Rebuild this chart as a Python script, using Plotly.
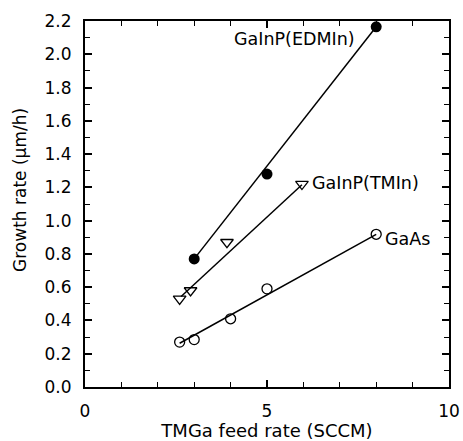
import plotly.graph_objects as go

# Data
edmin_x = [3.0, 5.0, 8.0]
edmin_y = [0.77, 1.28, 2.165]
tmin_x = [2.6, 2.9, 3.9, 5.96]
tmin_y = [0.53, 0.58, 0.87, 1.22]
gaas_x = [2.6, 3.0, 4.0, 5.0, 8.0]
gaas_y = [0.27, 0.285, 0.41, 0.59, 0.918]

# Fitted lines (endpoints)
edmin_fit_x = [3.0, 8.0]
edmin_fit_y = [0.77, 2.165]
tmin_fit_x = [2.64, 5.96]
tmin_fit_y = [0.544, 1.216]
gaas_fit_x = [2.6, 8.0]
gaas_fit_y = [0.263, 0.917]

x_ticks = [0, 5, 10]
y_ticks = [round(0.2 * i, 1) for i in range(12)]

FONT = "DejaVu Sans"
fig = go.Figure()
line_style = dict(color="black", width=1.5)
for fx, fy in [(edmin_fit_x, edmin_fit_y), (tmin_fit_x, tmin_fit_y), (gaas_fit_x, gaas_fit_y)]:
    fig.add_trace(go.Scatter(x=fx, y=fy, mode="lines", line=line_style,
                             showlegend=False, hoverinfo="skip"))

fig.add_trace(go.Scatter(x=edmin_x, y=edmin_y, mode="markers",
                         marker=dict(symbol="circle", size=11, color="black"),
                         showlegend=False))
fig.add_trace(go.Scatter(x=tmin_x, y=tmin_y, mode="markers",
                         marker=dict(symbol="triangle-down-open", size=11, color="black",
                                     line=dict(width=1.3, color="black")),
                         showlegend=False))
fig.add_trace(go.Scatter(x=gaas_x, y=gaas_y, mode="markers",
                         marker=dict(symbol="circle-open", size=10, color="black",
                                     line=dict(width=1.3, color="black")),
                         showlegend=False))

labels = [("GaInP(EDMIn)", 4.04, 2.09), ("GaInP(TMIn)", 6.19, 1.227), ("GaAs", 8.2, 0.89)]
for txt, lx, ly in labels:
    fig.add_annotation(x=lx, y=ly, text=txt, showarrow=False, xanchor="left",
                       yanchor="middle", font=dict(family=FONT, size=17.5, color="black"))

# y-axis title as a rotated annotation
fig.add_annotation(x=-0.179, y=0.538, xref="paper", yref="paper", text="Growth rate (μm/h)",
                   textangle=-90, showarrow=False, xanchor="center", yanchor="middle",
                   font=dict(family=FONT, size=17, color="black"))

axis_common = dict(showline=True, linecolor="black", linewidth=2, mirror="allticks",
                   ticks="inside", ticklen=7, tickwidth=1.5, tickcolor="black",
                   showgrid=False, zeroline=False, automargin=False,
                   tickfont=dict(family=FONT, size=17, color="black"))
fig.update_xaxes(range=[0, 10], tickvals=x_ticks, ticktext=[str(v) for v in x_ticks],
                 minor=dict(dtick=1, ticks="inside", ticklen=5, tickwidth=1.2, tickcolor="black", showgrid=False),
                 title=dict(text="TMGa feed rate (SCCM)", font=dict(family=FONT, size=18, color="black"), standoff=10),
                 ticklabelstandoff=8, **axis_common)
fig.update_yaxes(range=[0, 2.2], tickvals=y_ticks, ticktext=[f"{v:.1f}" for v in y_ticks],
                 minor=dict(dtick=0.1, ticks="inside", ticklen=5, tickwidth=1.2, tickcolor="black", showgrid=False),
                 ticklabelstandoff=8, **axis_common)

fig.update_layout(width=463, height=441, margin=dict(l=85, r=14, t=21, b=54),
                  plot_bgcolor="white", paper_bgcolor="white",
                  font=dict(family=FONT, color="black"))
fig.write_html("out.html", config={"displayModeBar": False},
               post_script="document.body.style.margin='0';document.body.style.overflow='hidden';")
